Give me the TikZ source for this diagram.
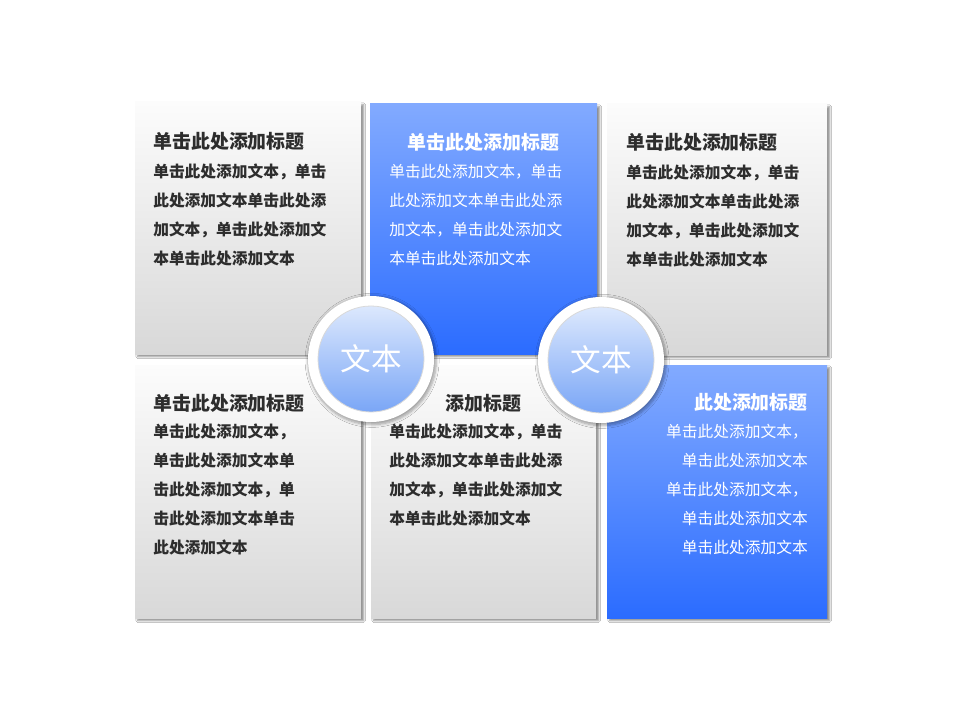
\documentclass[tikz,border=0pt]{standalone}
\usepackage{fontspec}
\newfontfamily\cjk{Noto Sans CJK SC}
\usetikzlibrary{shadows.blur}
\definecolor{bluetop}{RGB}{130,170,255}
\definecolor{bluebot}{RGB}{43,108,255}
\definecolor{graytop}{RGB}{252,252,252}
\definecolor{graybot}{RGB}{216,216,216}
\definecolor{txt}{RGB}{45,45,45}
\definecolor{ctop}{RGB}{220,232,253}
\definecolor{cbot}{RGB}{122,166,246}
\newcommand\plines[5]{%
  \foreach \ln [count=\k] in {#5} {\node[#4] (#1\k) at (#2,{#3+28.75*(\k-1)}) {\ln};}}
\begin{document}
\begin{tikzpicture}[x=0.75pt,y=-0.75pt,
  panelshadow/.style={blur shadow={shadow xshift=2pt,shadow yshift=-2pt,shadow blur steps=5,shadow blur radius=1.4pt,shadow opacity=45}},
  graypanel/.style={top color=graytop,bottom color=graybot,panelshadow},
  bluepanel/.style={top color=bluetop,bottom color=bluebot,panelshadow},
  dtitle/.style={inner sep=0,text=txt,font=\cjk\bfseries\fontsize{14.2}{16}\selectfont},
  wtitle/.style={inner sep=0,text=white,font=\cjk\bfseries\fontsize{14.2}{16}\selectfont},
  dbody/.style={inner sep=0,text=txt,font=\cjk\bfseries\fontsize{11.8}{14}\selectfont},
  wbody/.style={inner sep=0,text=white,font=\cjk\fontsize{11.8}{14}\selectfont},
  ring/.style={circle,fill=white,minimum size=94.5pt,inner sep=0,
    blur shadow={shadow xshift=0.8pt,shadow yshift=-1pt,shadow scale=1.02,shadow blur steps=6,shadow blur radius=2pt,shadow opacity=35}},
  ball/.style={circle,top color=ctop,bottom color=cbot,draw=black!15,line width=0.6pt,
    minimum size=79.5pt,inner sep=0,text=white,font=\cjk\fontsize{23}{26}\selectfont}
]
\useasboundingbox (0,0) rectangle (960,720);
\fill[white] (0,0) rectangle (960,720);
% panels
\path[graypanel] (135,102) rectangle (361,354);
\path[bluepanel] (370,104) rectangle (597,354);
\path[graypanel] (607,104) rectangle (827,355);
\path[graypanel] (135,365) rectangle (361,618);
\path[graypanel] (371,365) rectangle (596,618);
\path[bluepanel] (607,365) rectangle (827,618);
% circles
\node[ring] (r1) at (371,359) {};
\node[ring] (r2) at (601,360) {};
\node[ball] (c1) at (371,359) {文本};
\node[ball] (c2) at (601,360) {文本};
% texts top-left
\node[dtitle,anchor=west] (t1) at (153,141) {单击此处添加标题};
\plines{b1-}{153}{172}{dbody,anchor=west}{单击此处添加文本，单击,此处添加文本单击此处添,加文本，单击此处添加文,本单击此处添加文本}
% top-middle
\node[wtitle] (t2) at (483.5,142) {单击此处添加标题};
\plines{b2-}{389}{172}{wbody,anchor=west}{单击此处添加文本，单击,此处添加文本单击此处添,加文本，单击此处添加文,本单击此处添加文本}
% top-right
\node[dtitle,anchor=west] (t3) at (626,142) {单击此处添加标题};
\plines{b3-}{626}{173}{dbody,anchor=west}{单击此处添加文本，单击,此处添加文本单击此处添,加文本，单击此处添加文,本单击此处添加文本}
% bottom-left
\node[dtitle,anchor=west] (t4) at (153,403) {单击此处添加标题};
\plines{b4-}{153}{432}{dbody,anchor=west}{单击此处添加文本，,单击此处添加文本单,击此处添加文本，单,击此处添加文本单击,此处添加文本}
% bottom-middle
\node[dtitle] (t5) at (483.5,403) {添加标题};
\plines{b5-}{389}{432}{dbody,anchor=west}{单击此处添加文本，单击,此处添加文本单击此处添,加文本，单击此处添加文,本单击此处添加文本}
% bottom-right
\node[wtitle,anchor=east] (t6) at (808,402) {此处添加标题};
\plines{b6-}{808}{432}{wbody,anchor=east}{单击此处添加文本，,单击此处添加文本,单击此处添加文本，,单击此处添加文本,单击此处添加文本}
\end{tikzpicture}
\end{document}
